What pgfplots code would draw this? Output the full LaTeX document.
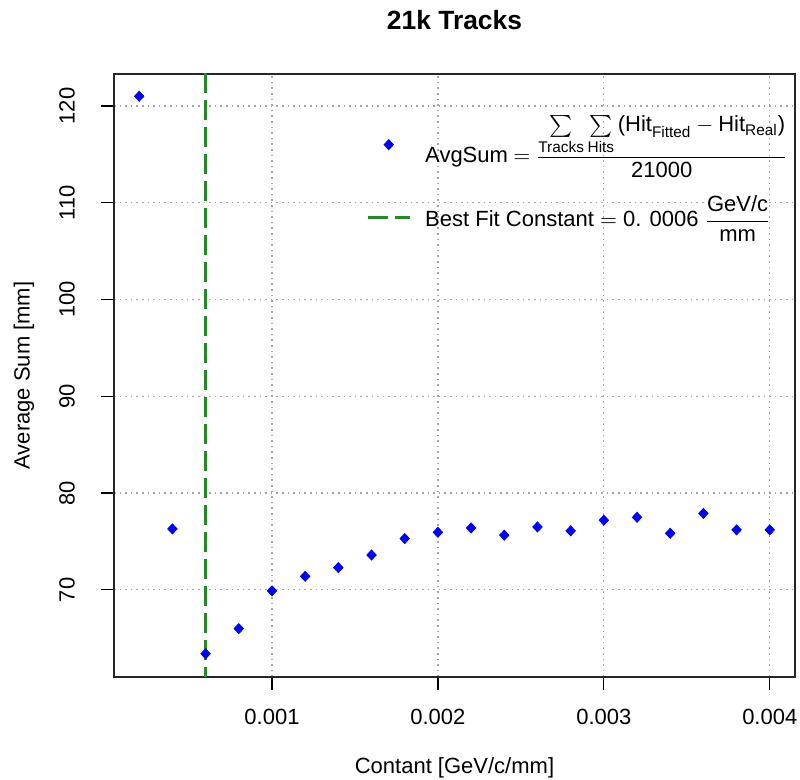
\documentclass[border=0pt]{standalone}
\usepackage{pgfplots}
\pgfplotsset{compat=1.18}
\usepackage{amsmath}
\usepackage{fontspec}
\setmainfont{Liberation Sans}
\definecolor{forestgreen}{RGB}{34,139,34}
\definecolor{gridgray}{RGB}{165,165,165}
\pgfplotsset{
  marklegend/.style={legend image code/.code={\draw[mark repeat=2,mark phase=2,##1] plot coordinates {(0pt,-2pt)(10.5pt,-2pt)(21pt,-2pt)};}},
  linelegend/.style={legend image code/.code={\draw[##1] (0pt,-2.5pt) -- (21pt,-2.5pt);}},
}
\begin{document}
\begin{tikzpicture}
\path[use as bounding box] (0,0) rectangle (400pt,390pt);
\begin{axis}[
  at={(57pt,51.5pt)}, anchor=south west,
  width=340.5pt, height=301.5pt, scale only axis,
  xmin=0.000048, xmax=0.004152,
  ymin=61.0, ymax=123.3,
  xtick={0.001,0.002,0.003,0.004},
  xticklabels={0.001,0.002,0.003,0.004},
  ytick={70,80,90,100,110,120},
  yticklabels={70,80,90,100,110,120},
  scaled x ticks=false,
  tick align=outside, major tick length=6.5pt,
  xtick pos=bottom, ytick pos=left,
  xticklabel shift=6pt, yticklabel shift=9.5pt,
  tick style={black, line width=0.6pt},
  axis line style={black!85, line width=0.7pt},
  ticklabel style={font=\fontsize{11}{13}\selectfont},
  yticklabel style={rotate=90, anchor=south},
  grid=major,
  major grid style={gridgray, line width=0.6pt, dash pattern=on 0.8pt off 2pt},
  legend style={at={(1,1)}, anchor=north east, xshift=1.5pt, yshift=-16.5pt, draw=none, fill=none,
    font=\fontsize{11}{13}\selectfont, row sep=11pt,
    /tikz/every odd column/.append style={column sep=5pt}},
  legend cell align=left,
]
% average sum per constant
\addplot[only marks, mark=diamond*, mark size=2.5pt, mark options={xscale=1.25}, color=blue, marklegend]
  coordinates {
  (0.0002, 121.0)
  (0.0004, 76.3)
  (0.0006, 63.4)
  (0.0008, 66.0)
  (0.0010, 69.9)
  (0.0012, 71.4)
  (0.0014, 72.3)
  (0.0016, 73.6)
  (0.0018, 75.3)
  (0.0020, 75.95)
  (0.0022, 76.4)
  (0.0024, 75.65)
  (0.0026, 76.5)
  (0.0028, 76.1)
  (0.0030, 77.2)
  (0.0032, 77.5)
  (0.0034, 75.85)
  (0.0036, 77.9)
  (0.0038, 76.2)
  (0.0040, 76.2)
  };
\addlegendentry{$\text{AvgSum}\mskip-0.5mu=\mskip-0.5mu\dfrac{\sum\limits_{\text{Tracks}}\sum\limits_{\text{Hits}}\text{(Hit}_{\text{Fitted}} - \text{Hit}_{\text{Real}}\text{)}}{\text{21000}}$}
% best fit
\addplot[forestgreen, line width=1.5pt, dash pattern=on 10pt off 3.5pt, linelegend]
  coordinates {(0.0006, 60) (0.0006, 125)};
\addlegendentry{$\text{Best Fit Constant} = \text{0. 0006}\;\dfrac{\text{GeV/c}}{\text{mm}}$}
\end{axis}
\node[font=\bfseries\fontsize{13.2}{16}\selectfont] at (227.25pt,380pt) {21k Tracks};
\node[font=\fontsize{11}{13}\selectfont] at (227.25pt,6pt) {Contant [GeV/c/mm]};
\node[font=\fontsize{11}{13}\selectfont, rotate=90] at (12pt,202.25pt) {Average Sum [mm]};
\end{tikzpicture}
\end{document}
